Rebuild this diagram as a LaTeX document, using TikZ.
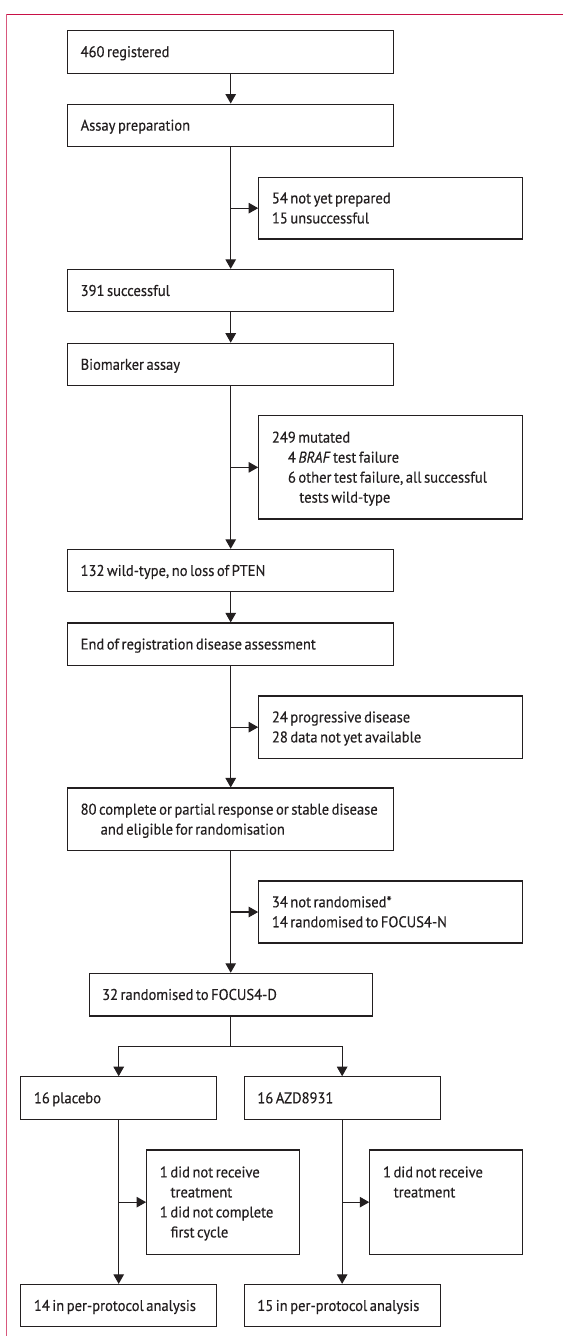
\documentclass[tikz,border=0pt]{standalone}
\usepackage{fontspec}
\setmainfont{PT Sans}[FakeStretch=0.94, WordSpace=0.65, FakeBold=0.3]
\usetikzlibrary{arrows.meta}
\definecolor{framered}{RGB}{200,16,70}
\definecolor{ink}{RGB}{35,31,32}
\begin{document}
\begin{tikzpicture}[x=1pt,y=-1pt,
  box/.style={draw=ink, line width=1.1pt, inner sep=0pt},
  mainbox/.style={box, minimum width=326pt, minimum height=42.5pt},
  sidebox/.style={box, minimum width=263.6pt},
  armbox/.style={box, minimum width=196pt, minimum height=42.5pt},
  smallbox/.style={box, minimum width=152.4pt, minimum height=104.3pt},
  ln/.style={draw=ink, line width=1.1pt},
  arr/.style={ln, -{Triangle[width=10.5pt,length=9.5pt]}},
  txt/.style={inner sep=0pt, align=left, anchor=base west, text=ink,
    font=\fontsize{15.5}{20}\selectfont}]
\useasboundingbox (0,0) rectangle (563,1336);
\fill[white] (0,0) rectangle (563,1336);
% frame
\draw[framered, line width=1pt] (6,14.3) -- (563,14.3);
\draw[framered!70, line width=0.8pt] (6,14.3) -- (6,1336);

% boxes
\node[mainbox] (b1) at (230.7,51.85) {};
\node[mainbox] (b2) at (230.7,125.35) {};
\node[sidebox, minimum height=61.7pt] (s1) at (390.5,208.15) {};
\node[mainbox] (b3) at (230.7,290.65) {};
\node[mainbox] (b4) at (230.7,364.5) {};
\node[sidebox, minimum height=103.3pt] (s2) at (390.5,467.35) {};
\node[mainbox] (b5) at (230.7,570.65) {};
\node[mainbox] (b6) at (230.7,644.2) {};
\node[sidebox, minimum height=62.3pt] (s3) at (390.5,727.15) {};
\node[box, minimum width=326pt, minimum height=62.7pt] (b7) at (230.7,819.35) {};
\node[sidebox, minimum height=62pt] (s4) at (390.5,912) {};
\node[box, minimum width=283pt, minimum height=42.7pt] (b8) at (230.7,994.65) {};
\node[armbox] (l1) at (118.7,1098) {};
\node[armbox] (r1) at (342.15,1098) {};
\node[smallbox] (ls) at (222.85,1202.15) {};
\node[smallbox] (rs) at (446,1202.15) {};
\node[armbox] (l2) at (118.7,1305.65) {};
\node[armbox] (r2) at (342.15,1305.65) {};

% texts (anchor = baseline of the last line)
\node[txt] (t1) at ([xshift=13.3pt,yshift=-5.25pt]b1.west) {460 registered};
\node[txt] (t2) at ([xshift=13.3pt,yshift=-5.25pt]b2.west) {Assay preparation};
\node[txt] (ts1) at ([xshift=13.6pt,yshift=-15.25pt]s1.west) {54 not yet prepared\\15 unsuccessful};
\node[txt] (t3) at ([xshift=13.3pt,yshift=-5.25pt]b3.west) {391 successful};
\node[txt] (t4) at ([xshift=13.3pt,yshift=-5.25pt]b4.west) {Biomarker assay};
\node[txt] (ts2) at ([xshift=13.6pt,yshift=-35.25pt]s2.west) {249 mutated\\\hspace*{16pt}4 \textit{BRAF} test failure\\\hspace*{16pt}6 other test failure, all successful\\\hspace*{27.5pt}tests wild-type};
\node[txt] (t5) at ([xshift=13.3pt,yshift=-5.25pt]b5.west) {132 wild-type, no loss of PTEN};
\node[txt] (t6) at ([xshift=13.3pt,yshift=-5.25pt]b6.west) {End of registration disease assessment};
\node[txt] (ts3) at ([xshift=13.6pt,yshift=-15.25pt]s3.west) {24 progressive disease\\28 data not yet available};
\node[txt] (t7) at ([xshift=13.3pt,yshift=-15.25pt]b7.west) {80 complete or partial response or stable disease\\\hspace*{20pt}and eligible for randomisation};
\node[txt] (ts4) at ([xshift=13.6pt,yshift=-15.25pt]s4.west) {34 not randomised*\\14 randomised to FOCUS4-N};
\node[txt] (t8) at ([xshift=13.3pt,yshift=-5.25pt]b8.west) {32 randomised to FOCUS4-D};
\node[txt] (tl1) at ([xshift=13.6pt,yshift=-5.25pt]l1.west) {16 placebo};
\node[txt] (tr1) at ([xshift=13.6pt,yshift=-5.25pt]r1.west) {16 AZD8931};
\node[txt] (tls) at ([xshift=13.6pt,yshift=-35.25pt]ls.west) {1 did not receive\\\hspace*{10.7pt}treatment\\1 did not complete\\\hspace*{10.7pt}first cycle};
\node[txt] (trs) at ([xshift=13.6pt,yshift=4.75pt]rs.west) {1 did not receive\\\hspace*{10.7pt}treatment};
\node[txt] (tl2) at ([xshift=13.6pt,yshift=-5.25pt]l2.west) {14 in per-protocol analysis};
\node[txt] (tr2) at ([xshift=13.6pt,yshift=-5.25pt]r2.west) {15 in per-protocol analysis};

% connectors
\draw[arr] (b1) -- (b2);
\draw[arr] (b2) -- (b3);
\draw[arr] (b2.south |- s1.west) -- (s1.west);
\draw[arr] (b3) -- (b4);
\draw[arr] (b4) -- (b5);
\draw[arr] (b4.south |- s2.west) -- (s2.west);
\draw[arr] (b5) -- (b6);
\draw[arr] (b6) -- (b7);
\draw[arr] (b6.south |- s3.west) -- (s3.west);
\draw[arr] (b7) -- (b8);
\draw[arr] (b7.south |- s4.west) -- (s4.west);
\coordinate (sp) at (230.7,1046.7);
\draw[ln] (b8.south) -- (sp);
\draw[arr] (sp) -| (l1.north);
\draw[arr] (sp) -| (r1.north);
\draw[arr] (l1) -- (l2);
\draw[arr] (l1.south |- ls.west) -- (ls.west);
\draw[arr] (r1) -- (r2);
\draw[arr] (r1.south |- rs.west) -- (rs.west);
\end{tikzpicture}
\end{document}
